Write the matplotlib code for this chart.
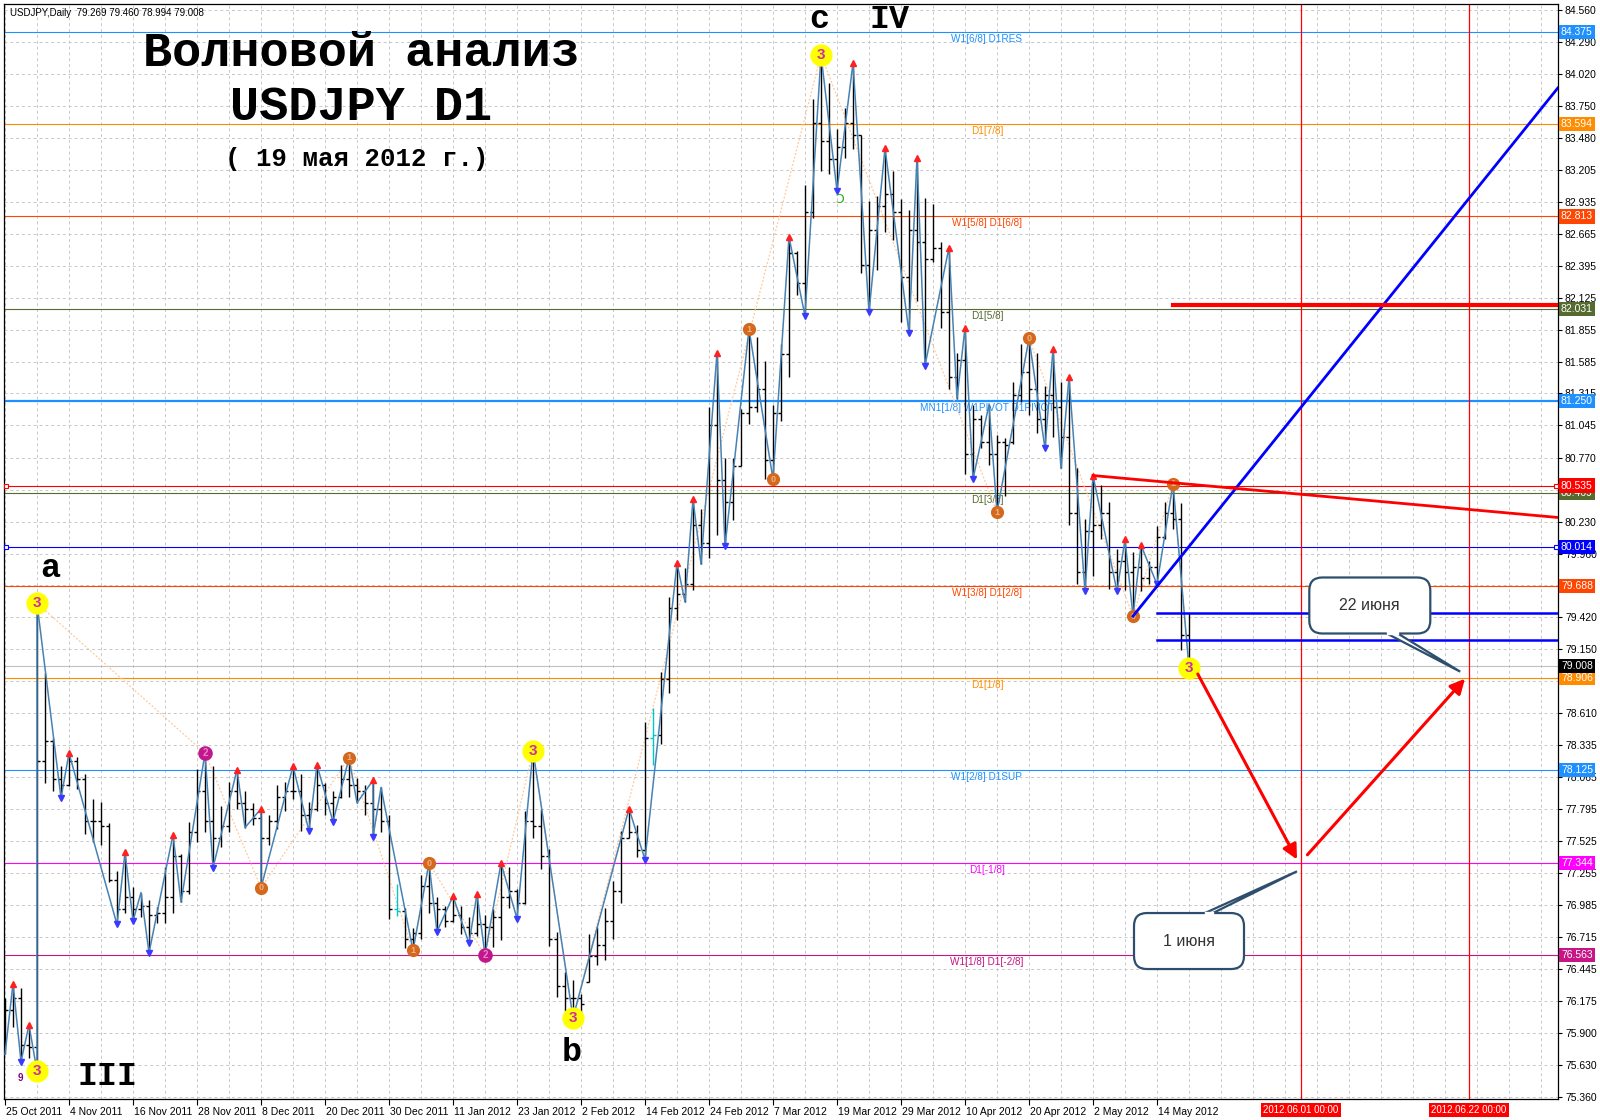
import matplotlib
matplotlib.use("Agg")
import matplotlib.pyplot as plt
import matplotlib.transforms as mtransforms
from matplotlib.patches import FancyBboxPatch, Polygon
from matplotlib.lines import Line2D
import numpy as np

# ------------------------------------------------------------------ data
symbol = "USDJPY,Daily"

date_label_bars = [0, 8, 16, 24, 32, 40, 48, 56, 64, 72, 80, 88, 96, 104, 112, 120, 128, 136, 144]
date_labels = ["25 Oct 2011", "4 Nov 2011", "16 Nov 2011", "28 Nov 2011", "8 Dec 2011",
               "20 Dec 2011", "30 Dec 2011", "11 Jan 2012", "23 Jan 2012", "2 Feb 2012",
               "14 Feb 2012", "24 Feb 2012", "7 Mar 2012", "19 Mar 2012", "29 Mar 2012",
               "10 Apr 2012", "20 Apr 2012", "2 May 2012", "14 May 2012"]

opens = [76.05, 76.10, 76.20, 75.80, 75.78, 78.20, 78.37, 78.05, 78.00, 78.20,
         78.05, 77.70, 77.70, 77.65, 77.20, 76.95, 77.05, 76.95, 76.98, 76.90,
         76.92, 77.05, 77.40, 77.10, 77.60, 77.95, 77.70, 77.55, 77.65, 77.95,
         77.85, 77.80, 77.72, 77.55, 77.70, 77.90, 77.95, 77.95, 77.75, 77.80,
         78.00, 77.85, 77.90, 78.05, 78.00, 77.95, 77.85, 77.80, 77.70, 76.95,
         76.93, 76.70, 76.75, 77.15, 77.00, 76.95, 76.85, 76.90, 76.80, 76.75,
         76.82, 76.80, 76.88, 77.05, 77.10, 77.00, 77.70, 77.65, 77.40, 76.70,
         76.30, 76.20, 76.20, 76.33, 76.55, 76.65, 76.85, 77.10, 77.55, 77.60,
         77.45, 78.40, 78.42, 78.90, 79.50, 79.62, 79.70, 80.20, 80.05, 81.05,
         80.58, 80.40, 80.70, 81.15, 81.20, 81.35, 80.75, 81.15, 81.65, 82.50,
         82.25, 82.85, 83.60, 83.45, 83.30, 83.40, 83.60, 83.50, 82.40, 82.70,
         82.90, 83.00, 82.85, 82.30, 82.70, 82.60, 82.45, 82.55, 82.00, 81.45,
         81.60, 80.80, 81.10, 80.90, 80.80, 80.90, 80.90, 81.30, 81.50, 81.35,
         81.10, 81.30, 81.20, 80.95, 80.30, 79.80, 80.15, 80.20, 80.30, 79.80,
         79.90, 79.80, 79.85, 79.75, 79.85, 80.10, 80.30, 80.25, 79.269]
highs = [76.20, 76.32, 76.28, 75.97, 79.54, 78.95, 78.40, 78.16, 78.27, 78.24,
         78.09, 77.88, 77.86, 77.68, 77.27, 77.43, 77.14, 77.09, 77.03, 76.97,
         77.31, 77.58, 77.42, 77.69, 78.14, 78.27, 78.16, 77.82, 78.03, 78.13,
         77.95, 77.85, 77.80, 77.75, 78.00, 78.03, 78.16, 78.09, 77.86, 78.17,
         78.02, 77.95, 78.17, 78.23, 78.06, 78.00, 78.04, 77.98, 77.75, 77.16,
         76.96, 76.79, 77.24, 77.34, 77.05, 76.98, 77.06, 76.98, 76.88, 77.08,
         76.90, 76.95, 77.34, 77.31, 77.12, 77.78, 78.29, 77.80, 77.46, 76.76,
         76.42, 76.35, 76.23, 76.74, 76.80, 76.96, 77.19, 77.61, 77.80, 77.66,
         78.53, 78.65, 78.96, 79.59, 79.88, 79.84, 80.42, 80.34, 81.20, 81.66,
         80.77, 80.77, 81.18, 81.86, 81.79, 81.59, 81.22, 81.73, 82.64, 82.52,
         83.08, 83.81, 84.18, 83.94, 83.55, 83.73, 84.11, 83.50, 82.94, 82.99,
         83.39, 83.20, 82.96, 82.87, 83.31, 82.97, 82.92, 82.60, 82.55, 81.66,
         81.87, 81.22, 81.13, 81.22, 80.96, 80.94, 81.41, 81.73, 81.78, 81.66,
         81.38, 81.69, 81.41, 81.45, 80.68, 80.25, 80.62, 80.54, 80.40, 80.00,
         80.08, 79.97, 80.03, 79.90, 80.19, 80.40, 80.55, 80.39, 79.460]
lows = [75.72, 75.95, 75.66, 75.69, 75.58, 78.02, 77.95, 77.89, 77.99, 77.97,
        77.59, 77.52, 77.49, 77.18, 76.82, 76.92, 76.85, 76.88, 76.58, 76.83,
        76.83, 76.92, 77.01, 77.08, 77.52, 77.60, 77.30, 77.48, 77.60, 77.80,
        77.64, 77.66, 77.13, 77.49, 77.63, 77.78, 77.88, 77.61, 77.61, 77.78,
        77.75, 77.69, 77.89, 77.90, 77.85, 77.75, 77.56, 77.60, 76.87, 76.89,
        76.62, 76.60, 76.70, 76.92, 76.76, 76.80, 76.84, 76.74, 76.66, 76.72,
        76.56, 76.63, 76.69, 76.96, 76.87, 76.99, 77.55, 77.29, 76.64, 76.21,
        76.09, 76.03, 76.05, 76.33, 76.48, 76.52, 76.70, 77.00, 77.55, 77.39,
        77.37, 78.17, 78.35, 78.78, 79.40, 79.55, 79.65, 79.87, 79.92, 80.12,
        80.02, 80.24, 80.70, 81.06, 81.16, 80.59, 80.59, 81.08, 81.45, 82.15,
        81.97, 82.80, 83.20, 83.17, 83.03, 83.31, 83.38, 82.33, 82.00, 82.36,
        82.68, 82.61, 81.92, 81.83, 82.10, 81.55, 82.43, 81.87, 81.35, 81.27,
        80.63, 80.59, 80.85, 80.71, 80.31, 80.45, 80.89, 81.24, 81.13, 80.98,
        80.85, 80.95, 80.68, 80.20, 79.70, 79.64, 79.77, 80.08, 79.66, 79.64,
        79.65, 79.43, 79.64, 79.70, 79.70, 80.08, 80.17, 79.14, 78.994]
closes = [76.10, 76.20, 75.80, 75.78, 78.20, 78.37, 78.05, 78.00, 78.20, 78.05,
          77.70, 77.70, 77.65, 77.20, 76.95, 77.05, 76.95, 76.98, 76.90, 76.92,
          77.05, 77.40, 77.10, 77.60, 77.95, 77.70, 77.55, 77.65, 77.95, 77.85,
          77.80, 77.72, 77.55, 77.70, 77.90, 77.95, 77.95, 77.75, 77.80, 78.00,
          77.85, 77.90, 78.05, 78.00, 77.95, 77.85, 77.80, 77.70, 76.95, 76.93,
          76.70, 76.75, 77.15, 77.00, 76.95, 76.85, 76.90, 76.80, 76.75, 76.82,
          76.80, 76.88, 77.05, 77.10, 77.00, 77.70, 77.65, 77.40, 76.70, 76.30,
          76.20, 76.20, 76.15, 76.55, 76.65, 76.85, 77.10, 77.55, 77.60, 77.45,
          78.40, 78.42, 78.90, 79.50, 79.62, 79.70, 80.20, 80.05, 81.05, 80.58,
          80.40, 80.70, 81.15, 81.20, 81.35, 80.75, 81.15, 81.65, 82.50, 82.25,
          82.85, 83.60, 83.45, 83.30, 83.40, 83.60, 83.50, 82.40, 82.70, 82.90,
          83.00, 82.85, 82.30, 82.70, 82.60, 82.45, 82.55, 82.00, 81.45, 81.60,
          80.80, 81.10, 80.90, 80.80, 80.90, 80.88, 81.30, 81.50, 81.35, 81.10,
          81.30, 81.20, 80.95, 80.30, 79.80, 80.15, 80.20, 80.30, 79.80, 79.90,
          79.80, 79.85, 79.75, 79.85, 80.10, 80.30, 80.25, 79.27, 79.008]
cyan_bars = [49, 81]

# zigzag vertices (bar index, which extreme of that bar)
zz_bars = [0, 1, 2, 3, 4, 4, 7, 8, 14, 15, 16, 17, 18, 21, 22, 25, 26, 29, 30, 32,
           32, 36, 38, 39, 41, 43, 44, 46, 46, 47, 51, 53, 54, 56, 58, 59, 60, 62, 64, 66,
           71, 78, 80, 84, 85, 86, 87, 89, 90, 93, 96, 98, 100, 102, 104, 106, 108, 110, 113, 114,
           115, 118, 119, 120, 121, 123, 124, 128, 130, 131, 132, 133, 135, 136, 139, 140, 141, 142, 144, 146,
           148]
zz_kinds = "LHLHLH" "LHLHLHLHLHLHLH" "LHLHLHLHLHLHLHLHLHLH" "LHLHLHLHLHLHLHLHLHLH" "LHLHLHLHLHLHLHLHLHLH" "L"

up_arrow_bars = [1, 3, 8, 15, 21, 29, 32, 36, 39, 46, 56, 59, 62, 78, 84, 86, 89, 98,
                 106, 110, 114, 118, 120, 131, 133, 136, 140, 142]
down_arrow_bars = [2, 7, 14, 16, 18, 26, 38, 41, 46, 54, 58, 64, 80, 90, 100, 104, 108,
                   113, 115, 121, 130, 135, 139, 144]

# wave markers: (bar, extreme, label, style)
wave_marks = [(4, "H", "3", "y"), (4, "L", "3", "y"), (25, "H", "2", "p"), (32, "L", "0", "o"),
              (43, "H", "1", "o"), (51, "L", "1", "o"), (53, "H", "0", "o"), (60, "L", "2", "p"),
              (66, "H", "3", "y"), (71, "L", "3", "y"), (93, "H", "1", "o"), (96, "L", "0", "o"),
              (102, "H", "3", "y"), (124, "L", "1", "o"), (128, "H", "0", "o"), (141, "L", "0", "o"),
              (146, "H", "1", "o"), (148, "L", "3", "y")]
major_zz = [(4, "H"), (25, "H"), (32, "L"), (43, "H"), (51, "L"), (53, "H"), (60, "L"),
            (66, "H"), (71, "L"), (102, "H"), (124, "L"), (128, "H"), (141, "L"), (146, "H"), (148, "L")]

# Murrey-math levels
level_values = [84.375, 83.594, 82.813, 82.031, 81.250, 80.469, 79.688, 78.906, 78.125, 77.344, 76.563]
level_names = ["W1[6/8] D1RES", "D1[7/8]", "W1[5/8] D1[6/8]", "D1[5/8]", "MN1[1/8] W1PIVOT D1PIVOT",
               "D1[3/8]", "W1[3/8] D1[2/8]", "D1[1/8]", "W1[2/8] D1SUP", "D1[-1/8]", "W1[1/8] D1[-2/8]"]
level_colors = ["#1E90FF", "#FF8C00", "#FF4500", "#556B2F", "#1E90FF", "#556B2F", "#FF4500",
                "#FF8C00", "#1E90FF", "#FF00FF", "#C71585"]
hline_values = [80.535, 80.014]
hline_colors = ["#FF0000", "#0000FF"]

y_ticks = [84.560, 84.290, 84.020, 83.750, 83.480, 83.205, 82.935, 82.665, 82.395, 82.125,
           81.855, 81.585, 81.315, 81.045, 80.770, 80.500, 80.230, 79.960, 79.690, 79.420,
           79.150, 78.880, 78.610, 78.335, 78.065, 77.795, 77.525, 77.255, 76.985, 76.715,
           76.445, 76.175, 75.900, 75.630, 75.360]
hidden_tick_labels = [80.500, 79.690, 78.880]   # covered by the price boxes in the original

# analyst drawings (bar index, price)
vline_bars = [162, 183]
vline_labels = ["2012.06.01 00:00", "2012.06.22 00:00"]
blue_ray = [(141, 79.43), (194.1, 83.90)]
red_trend = [(136, 80.62), (194.1, 80.265)]
red_level = (146, 82.06)
blue_levels = [(144, 79.46), (144, 79.23)]
forecast_arrows = [((149.1, 78.94), (161.5, 77.37)), ((162.8, 77.41), (182.5, 78.90))]
callouts = [("22 июня", (170.6, 79.52), (121, 56), (181.9, 78.96), "bottom", (17, 28)),
            ("1 июня", (148.0, 76.68), (110, 56), (161.5, 77.27), "top", (16, 24))]

# ------------------------------------------------------------------ figure
W, H = 1600, 1120
fig = plt.figure(figsize=(W / 100, H / 100), dpi=100)
fig.patch.set_facecolor("white")
L_PX, R_PX, T_PX, B_PX = 4, 1558, 4, 1099
ax = fig.add_axes([L_PX / W, 1 - B_PX / H, (R_PX - L_PX) / W, (B_PX - T_PX) / H])
ax.set_facecolor("white")
ax.set_xlim(-0.125, 194.125)
ax.set_ylim(75.343, 84.611)

SANS = ["Liberation Sans", "DejaVu Sans"]
MONO = ["Liberation Mono", "DejaVu Sans Mono"]

for s in ax.spines.values():
    s.set_color("black")
    s.set_linewidth(0.9)

# grid
for v in y_ticks:
    ax.axhline(v, color="#C8C8C8", lw=0.7, ls=(0, (3, 3)), zorder=0)
for b in range(0, 196, 4):
    ax.axvline(b, color="#C8C8C8", lw=0.7, ls=(0, (3, 3)), zorder=0)

# y axis
ax.yaxis.tick_right()
ax.set_yticks(y_ticks)
ax.set_yticklabels(["" if v in hidden_tick_labels else f"{v:.3f}" for v in y_ticks],
                   fontsize=7.5, family=SANS)
ax.tick_params(axis="y", length=3, width=0.8, pad=2, direction="out")

# x axis
ax.set_xticks(date_label_bars)
ax.set_xticklabels(date_labels, fontsize=7.5, family=SANS, ha="left")
ax.tick_params(axis="x", length=4, width=0.8, pad=2, direction="out")
shift = mtransforms.ScaledTranslation(1 / 100, 0, fig.dpi_scale_trans)
for lab in ax.get_xticklabels():
    lab.set_transform(lab.get_transform() + shift)

by = mtransforms.blended_transform_factory(ax.transAxes, ax.transData)
bx = mtransforms.blended_transform_factory(ax.transData, ax.transAxes)

# Murrey levels
mid_bar = 122.75
for v, name, c in zip(level_values, level_names, level_colors):
    lw = 1.6 if name.startswith("MN1") else 0.8
    ax.axhline(v, color=c, lw=lw, zorder=1)
    ax.annotate(name, xy=(mid_bar, v), xytext=(0, -2), textcoords="offset pixels",
                ha="center", va="top", fontsize=7.2, family=SANS, color=c, zorder=2)
for v, c in zip(hline_values, hline_colors):
    ax.axhline(v, color=c, lw=0.8, zorder=1)
    ax.plot([0.0013, 0.999], [v, v], transform=by, ls="none", marker="s", ms=3,
            mfc="white", mec=c, mew=0.8, clip_on=False, zorder=6)
# current price line
ax.axhline(closes[-1], color="#C0C0C0", lw=0.8, zorder=1)

# major (higher degree) zigzag, dotted peach
mx = [b for b, k in major_zz]
my = [highs[b] if k == "H" else lows[b] for b, k in major_zz]
ax.plot(mx, my, color="#FFC89A", lw=0.9, ls=(0, (1.5, 1.5)), zorder=2)

# OHLC bars
xb = np.arange(len(opens))
bar_cols = ["#00C8C8" if i in cyan_bars else "black" for i in xb]
ax.vlines(xb, lows, highs, colors=bar_cols, lw=1.0, zorder=3)
ax.hlines(opens, xb - 0.42, xb, colors=bar_cols, lw=1.0, zorder=3)
ax.hlines(closes, xb, xb + 0.42, colors=bar_cols, lw=1.0, zorder=3)

# minor zigzag
zy = [highs[b] if k == "H" else lows[b] for b, k in zip(zz_bars, zz_kinds)]
ax.plot(zz_bars, zy, color="#4682B4", lw=1.1, zorder=4)

# arrows
ax.plot(up_arrow_bars, [highs[b] for b in up_arrow_bars], ls="none", marker="^", ms=4,
        color="#FF2020", zorder=5)
ax.plot(down_arrow_bars, [lows[b] for b in down_arrow_bars], ls="none", marker="v", ms=4,
        color="#3A3AFF", zorder=5)

# wave marker circles
style = {"y": ("#FFFF00", 16, "#CC2FA0", 11), "o": ("#D2691E", 9.5, "#F4B07A", 6.5),
         "p": ("#C0188C", 10.5, "#F080C8", 7)}
for b, k, lab, st in wave_marks:
    yv = highs[b] if k == "H" else lows[b]
    fc, ms, tc, fs = style[st]
    ax.plot([b], [yv], marker="o", ms=ms, mfc=fc, mec="none", ls="none", zorder=7, clip_on=False)
    ax.text(b, yv, lab, ha="center", va="center", fontsize=fs, color=tc,
            fontweight="bold", family=SANS, zorder=8)
ax.text(1.9, 75.52, "9", fontsize=7, color="#800080", fontweight="bold", family=SANS,
        ha="center", va="center", zorder=8)
ax.text(104.3, 82.96, "Ɔ", fontsize=9, color="#22AA22", family=["DejaVu Sans"],
        ha="center", va="center", zorder=8)

# analyst drawings
for b in vline_bars:
    ax.axvline(b, color="#FF0000", lw=0.9, zorder=2)
for b, lab in zip(vline_bars, vline_labels):
    ax.annotate(lab, xy=(b, 0), xycoords=bx, xytext=(0, -11), textcoords="offset pixels",
                ha="center", va="center", fontsize=7, family=SANS, color="white",
                bbox=dict(boxstyle="square,pad=0.2", fc="#FF0000", ec="none"),
                annotation_clip=False, zorder=30)

(x0, y0), (x1, y1) = blue_ray
ax.plot([x0, x1], [y0, y1], color="#0000FF", lw=2.0, zorder=9)
(x0, y0), (x1, y1) = red_trend
ax.plot([x0, x1], [y0, y1], color="#FF0000", lw=2.0, zorder=9)
ax.plot([red_level[0], 194.2], [red_level[1]] * 2, color="#FF0000", lw=3.0, zorder=9)
for b, v in blue_levels:
    ax.plot([b, 194.2], [v, v], color="#0000FF", lw=1.8, zorder=9)
for (s0, s1) in forecast_arrows:
    ax.annotate("", xy=s1, xytext=s0,
                arrowprops=dict(arrowstyle="-|>", color="#FF0000", lw=2.2,
                                mutation_scale=22, shrinkA=0, shrinkB=0), zorder=10)

# callouts
ident = mtransforms.IdentityTransform()
edge_c = "#2E4E6E"
for text, center, size, tip, edge, base in callouts:
    X, Y = ax.transData.transform(center)
    TX, TY = ax.transData.transform(tip)
    w, h = size
    r = 13
    ey = Y - h / 2 if edge == "bottom" else Y + h / 2
    tail = Polygon([(X + base[0], ey), (TX, TY), (X + base[1], ey)], closed=True,
                   fc="white", ec=edge_c, lw=1.6, transform=ident, zorder=20)
    fig.add_artist(tail)
    box = FancyBboxPatch((X - w / 2 + r, Y - h / 2 + r), w - 2 * r, h - 2 * r,
                         boxstyle=f"round,pad={r}", fc="white", ec=edge_c, lw=1.6,
                         transform=ident, zorder=21)
    fig.add_artist(box)
    fig.add_artist(Line2D([X + base[0] + 1.2, X + base[1] - 1.2], [ey, ey], color="white",
                          lw=2.4, transform=ident, zorder=22))
    fig.text(X, Y, text, transform=ident, ha="center", va="center", fontsize=11.5,
             color="#333333", family=SANS, zorder=23)

# right-axis price labels
box_labels = [(v, c, "white") for v, c in zip(level_values, level_colors)]
box_labels += [(v, c, "white") for v, c in zip(hline_values, hline_colors)]
box_labels += [(closes[-1], "#000000", "white")]
for v, c, tc in box_labels:
    ax.annotate(f"{v:.3f}", xy=(1, v), xycoords=by, xytext=(3, 0), textcoords="offset pixels",
                ha="left", va="center", fontsize=7.5, family=SANS, color=tc,
                bbox=dict(boxstyle="square,pad=0.2", fc=c, ec="none"),
                annotation_clip=False, zorder=30)

# texts
px = mtransforms.Affine2D().scale(1, -1).translate(0, H)
fig.text(10, 13, f"{symbol}  {opens[-1]:.3f} {highs[-1]:.3f} {lows[-1]:.3f} {closes[-1]:.3f}",
         transform=px, fontsize=7, family=SANS, ha="left", va="center", zorder=30)
fig.text(361, 66, "Волновой анализ", transform=px, fontsize=35, family=MONO,
         fontweight="bold", ha="center", va="baseline")
fig.text(361, 119.5, "USDJPY D1", transform=px, fontsize=35, family=MONO,
         fontweight="bold", ha="center", va="baseline")
fig.text(357, 166, "( 19 мая 2012 г.)", transform=px, fontsize=18.5, family=MONO,
         fontweight="bold", ha="center", va="baseline")
for s, xx, yy in [("a", 50, 577), ("III", 107, 1085), ("b", 572, 1061), ("c", 819, 27.5),
                  ("IV", 889, 27.5)]:
    fig.text(xx, yy, s, transform=px, fontsize=24, family=MONO, fontweight="bold",
             ha="center", va="baseline", zorder=30)

fig.savefig("out.png", dpi=100)
